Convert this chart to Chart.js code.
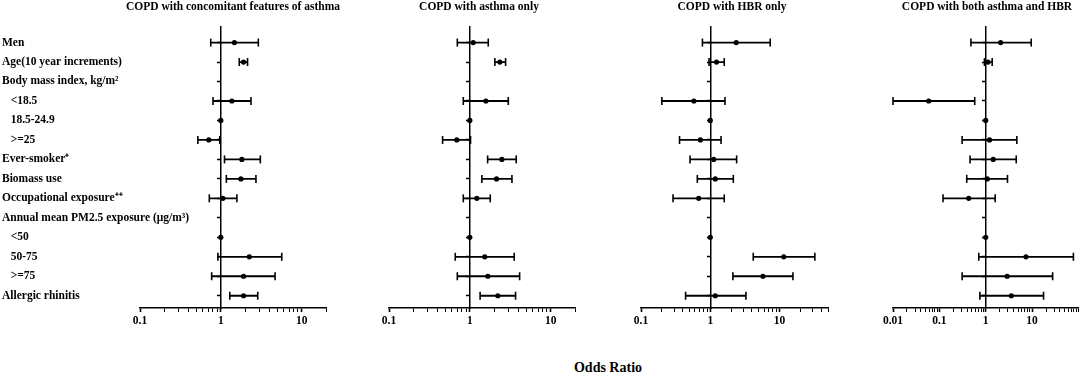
<!DOCTYPE html>
<html><head><meta charset="utf-8">
<script src="https://cdn.jsdelivr.net/npm/chart.js@4.4.1/dist/chart.umd.min.js"></script>
<style>
html,body{margin:0;padding:0;background:#fff;width:1084px;height:375px;overflow:hidden;}
#wrap{position:relative;width:1084px;height:375px;}
canvas{position:absolute;top:0;}
.t{position:absolute;font-family:'Liberation Serif','Times New Roman',serif;font-weight:bold;color:#000;white-space:nowrap;transform:translateX(-50%);line-height:13px;}
</style></head><body>
<div id="wrap">
<canvas id="c1" width="346" height="330" style="left:0px"></canvas>
<canvas id="c2" width="226" height="330" style="left:369px"></canvas>
<canvas id="c3" width="227" height="330" style="left:621px"></canvas>
<canvas id="c4" width="211" height="330" style="left:873px"></canvas>
</div>
<script>
// ---- data ----
const rowLabels = ['Men','Age(10 year increments)','Body mass index, kg/m\u00B2','   <18.5','   18.5-24.9','   >=25','Ever-smoker\u207A','Biomass use','Occupational exposure\u207A\u207A','Annual mean PM2.5 exposure (\u03BCg/m\u00B3)','   <50','   50-75','   >=75','Allergic rhinitis'];
const panelTitles = ['COPD with concomitant features of asthma','COPD with asthma only','COPD with HBR only','COPD with both asthma and HBR'];
const axisTitle = 'Odds Ratio';

const or1 = [1.47, 1.91, null, 1.37, 1, 0.71, 1.82, 1.77, 1.06, null, 1, 2.25, 1.91, 1.91];
const lo1 = [0.75, 1.69, null, 0.80, null, 0.52, 1.11, 1.17, 0.72, null, null, 0.92, 0.77, 1.29];
const hi1 = [2.91, 2.14, null, 2.36, null, 0.97, 3.08, 2.72, 1.58, null, null, 5.67, 4.69, 2.86];

const or2 = [1.10, 2.35, null, 1.58, 1, 0.69, 2.49, 2.14, 1.22, null, 1, 1.53, 1.67, 2.22];
const lo2 = [0.70, 2.04, null, 0.83, null, 0.46, 1.66, 1.41, 0.83, null, null, 0.66, 0.70, 1.34];
const hi2 = [1.69, 2.77, null, 2.99, null, 1.02, 3.75, 3.32, 1.79, null, null, 3.54, 4.13, 3.68];

const or3 = [2.37, 1.23, null, 0.58, 1, 0.72, 1.12, 1.18, 0.68, null, 1, 11.5, 5.75, 1.18];
const lo3 = [0.77, 0.96, null, 0.20, null, 0.36, 0.51, 0.65, 0.29, null, null, 4.17, 2.12, 0.44];
const hi3 = [7.33, 1.59, null, 1.63, null, 1.43, 2.40, 2.15, 1.59, null, null, 32.3, 15.6, 3.27];

const or4 = [2.10, 1.12, null, 0.059, 1, 1.21, 1.45, 1.08, 0.43, null, 1, 7.4, 2.90, 3.58];
const lo4 = [0.48, 0.94, null, 0.01, null, 0.31, 0.46, 0.39, 0.12, null, null, 0.71, 0.31, 0.75];
const hi4 = [9.6, 1.38, null, 0.58, null, 4.7, 4.56, 2.95, 1.60, null, null, 78, 27.8, 17.7];

const tickLabels123 = [0.1, 1, 10];
const tickLabels4 = [0.01, 0.1, 1, 10];

// ---- layout / style ----
const FONT = "'Liberation Serif','Times New Roman',serif";
const panels = [
  {id:'c1', min:0.1, max:20, labelsAxis:true, pad:{left:2,right:20}, ticks:tickLabels123, or:or1, lo:lo1, hi:hi1, titleX:233},
  {id:'c2', min:0.1, max:20, labelsAxis:false, pad:{left:20,right:20}, ticks:tickLabels123, or:or2, lo:lo2, hi:hi2, titleX:479},
  {id:'c3', min:0.1, max:50, labelsAxis:false, pad:{left:20,right:20}, ticks:tickLabels123, or:or3, lo:lo3, hi:hi3, titleX:732},
  {id:'c4', min:0.01, max:100, labelsAxis:false, pad:{left:20,right:0}, ticks:tickLabels4, or:or4, lo:lo4, hi:hi4, titleX:987}
];
const yMin = -0.8, yMax = 13.63;

function ciData(lo, hi){ const d=[]; lo.forEach((l,i)=>{ if(l!=null && hi[i]!=null){ d.push({x:l,y:i},{x:hi[i],y:i},{x:1,y:null}); } }); return d; }
function capData(lo, hi){ const d=[]; lo.forEach((l,i)=>{ if(l!=null) d.push({x:l,y:i}); if(hi[i]!=null) d.push({x:hi[i],y:i}); }); return d; }
function ptData(or){ const d=[]; or.forEach((v,i)=>{ if(v!=null) d.push({x:v,y:i}); }); return d; }
function isLabel(list, v){ return list.some(t => Math.abs(t - v) / t < 1e-6); }
function rowTicks(s){ s.ticks = rowLabels.map((_,i)=>({value:i})); }

// let the left category labels run into the plot area (no clipping to the axis box)
const unclipLabels = {
  id:'unclipLabels',
  afterLayout(chart){ const s = chart.scales.yl; if (s) s.right = chart.width; }
};

const wrap = document.getElementById('wrap');

panels.forEach((p, pi) => {
  const scales = {
    x: {
      type:'logarithmic', min:p.min, max:p.max, position:'bottom',
      afterBuildTicks: s => {
        const t=[];
        for (let e=Math.floor(Math.log10(p.min)+1e-9); Math.pow(10,e) <= p.max*1.0001; e++) {
          for (let k=1;k<=9;k++){
            const v = +(k*Math.pow(10,e)).toPrecision(6);
            if (v >= p.min*0.9999 && v <= p.max*1.0001) t.push({value:v, major:k===1});
          }
        }
        if (Math.abs(t[t.length-1].value - p.max) > 1e-9) t.push({value:p.max, major:false});
        s.ticks = t;
      },
      afterFit: s => { s.height = 20; },
      grid:{display:true, drawOnChartArea:false, drawTicks:true, tickLength:4, color:'#000', tickColor:'#000',
            tickWidth: c => (c.tick && isLabel(p.ticks, c.tick.value)) ? 1.6 : 1},
      border:{display:true, color:'#000', width:1.5},
      ticks:{autoSkip:false, maxRotation:0, minRotation:0, padding:2, color:'#000',
             font:{family:FONT, size:11.5, weight:'bold'},
             callback: v => isLabel(p.ticks, Number(v)) ? String(Number(v)) : ''}
    },
    y: {
      type:'linear', min:yMin, max:yMax, reverse:true, position:{x:1},
      afterBuildTicks: rowTicks,
      afterFit: s => { s.width = 0; },
      grid:{display:true, drawOnChartArea:false, drawTicks:true, tickLength:3, color:'#000', tickColor:'#000', tickWidth:1.5},
      border:{display:true, color:'#000', width:1.5},
      ticks:{display:false}
    }
  };
  if (p.labelsAxis) {
    scales.yl = {
      axis:'y', type:'linear', min:yMin, max:yMax, reverse:true, position:'left',
      afterBuildTicks: rowTicks,
      afterFit: s => { s.width = 138; },
      grid:{display:false}, border:{display:false},
      ticks:{autoSkip:false, crossAlign:'far', padding:0, color:'#000',
             font:{family:FONT, size:11.5, weight:'bold'},
             callback: v => rowLabels[v] || ''}
    };
  }
  new Chart(document.getElementById(p.id), {
    type:'scatter',
    data:{ datasets:[
      {label:'CI', data:ciData(p.lo,p.hi), showLine:true, spanGaps:false, borderColor:'#000', borderWidth:1.8, pointRadius:0, clip:false},
      {label:'caps', data:capData(p.lo,p.hi), pointStyle:'line', rotation:90, pointRadius:4, pointBorderWidth:1.6, borderColor:'#000', backgroundColor:'#000', clip:false},
      {label:'OR', data:ptData(p.or), pointStyle:'circle', pointRadius:2.6, pointBorderWidth:0, backgroundColor:'#000', borderColor:'#000', clip:false}
    ]},
    options:{
      responsive:false, animation:false, devicePixelRatio:1,
      layout:{padding:{left:p.pad.left, right:p.pad.right, top:27, bottom:2}},
      plugins:{legend:{display:false}, tooltip:{enabled:false}, title:{display:false}},
      scales
    },
    plugins:[unclipLabels]
  });
  const t = document.createElement('div');
  t.className='t'; t.textContent = panelTitles[pi];
  t.style.left = p.titleX+'px'; t.style.top='0px'; t.style.fontSize='11.5px';
  wrap.appendChild(t);
});
const ot = document.createElement('div');
ot.className='t'; ot.textContent = axisTitle;
ot.style.left='608px'; ot.style.top='360px'; ot.style.fontSize='14px'; ot.style.lineHeight='16px';
wrap.appendChild(ot);
</script>
</body></html>
